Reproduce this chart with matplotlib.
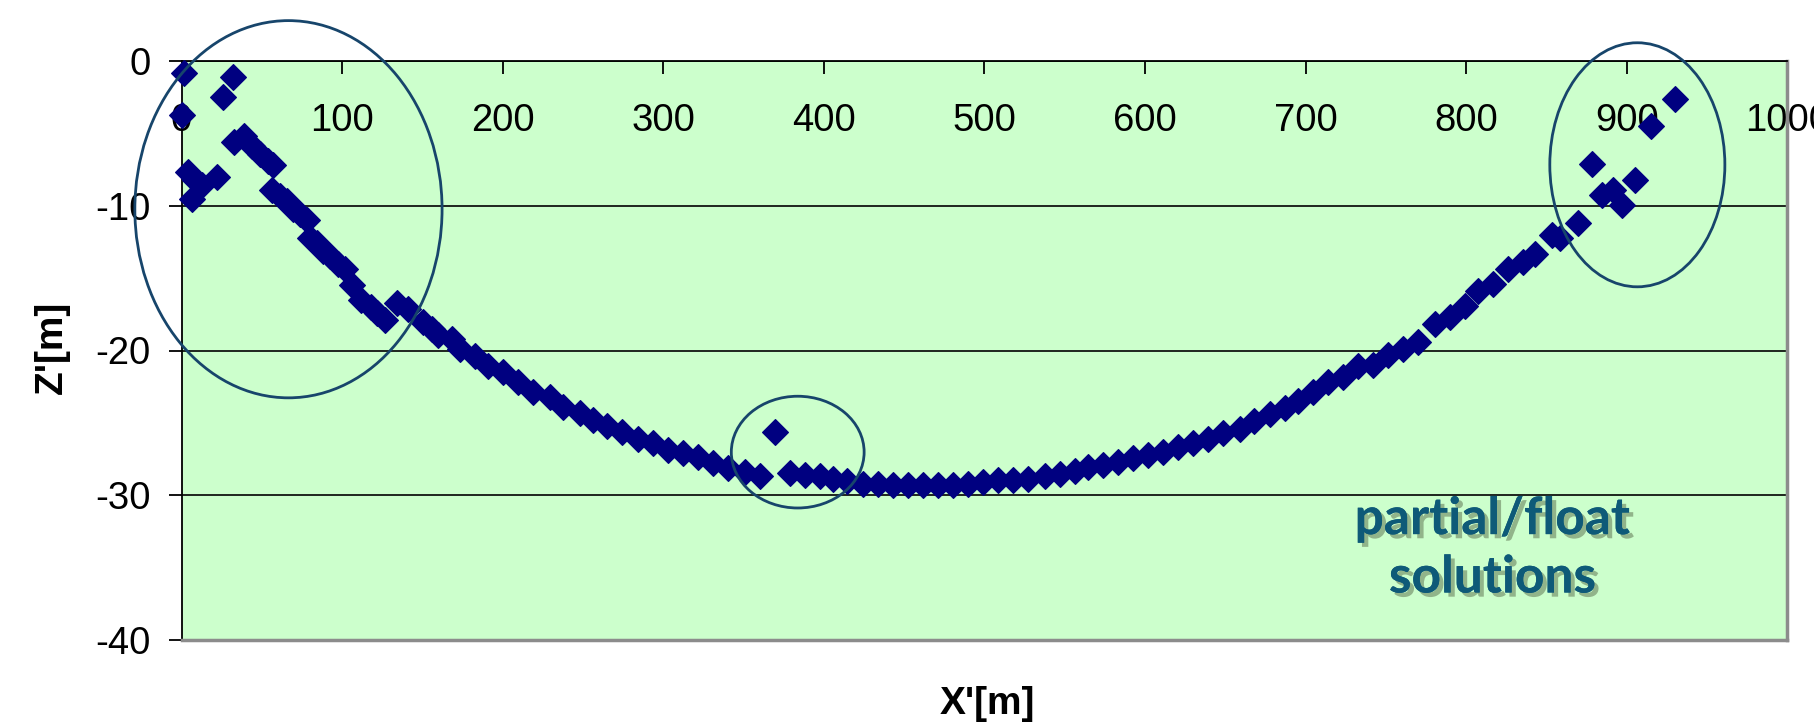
import matplotlib
matplotlib.use("Agg")
import matplotlib.pyplot as plt
from matplotlib.patches import Ellipse
import matplotlib.patheffects as pe

plt.rcParams['font.family'] = ['Liberation Sans', 'DejaVu Sans']
plt.rcParams['axes.unicode_minus'] = False

# ---- data ----
x_vals = [1.7, 0.5, 4.2, 8.4, 12.6, 6.3, 21.9, 26.0, 31.9,
          32.9, 39.1, 43.6, 48.8, 53.9, 57.2,
          56.2, 61.3, 65.5, 69.6, 73.8, 78.0,
          80.0, 84.2, 88.3, 92.5, 97.6, 101.8,
          106.0, 112.0, 118.0, 122.0, 126.7,
          134.0, 141.0, 150.6, 155.8, 159.9, 168.2, 173.4, 182.7, 191.0, 200.4,
          209.7, 219.1, 229.5, 237.7, 248.1, 256.4, 264.8, 274.1, 284.4, 293.8,
          303.1, 312.5, 321.8, 331.1, 340.5, 350.9, 360.2, 369.6, 378.9, 388.2,
          397.6, 405.9, 414.2, 424.5, 433.9, 443.2, 452.6, 461.9, 471.2, 480.6,
          489.9, 499.3, 508.6, 517.9, 527.3, 537.7, 547.0, 556.4, 564.6, 574.0,
          583.3, 592.7, 602.0, 611.3, 620.7, 630.0, 639.4, 648.7, 659.1, 668.0,
          677.8, 687.1, 695.4, 704.7, 714.1, 723.4, 732.8, 742.1, 751.4, 760.8,
          770.1, 780.5, 789.8, 799.2, 807.5, 816.8, 826.2, 835.5, 842.8, 853.2,
          858.3, 869.7, 878.5, 884.3, 891.5, 896.8, 905.0, 914.8, 930.0]
z_vals = [-0.85, -3.7, -7.65, -8.2, -8.6, -9.5, -8.0, -2.5, -1.1,
          -5.6, -5.2, -5.85, -6.4, -6.9, -7.2,
          -8.9, -9.3, -9.7, -10.2, -10.6, -11.0,
          -12.2, -12.6, -13.1, -13.5, -14.0, -14.4,
          -15.5, -16.5, -17.0, -17.4, -17.9,
          -16.7, -17.1, -18.0, -18.5, -18.9, -19.2, -19.9, -20.4, -21.1, -21.5,
          -22.2, -22.9, -23.2, -23.9, -24.35, -24.8, -25.2, -25.6, -26.1, -26.4,
          -26.9, -27.1, -27.35, -27.8, -28.15, -28.4, -28.7, -25.6, -28.45, -28.6,
          -28.7, -28.85, -29.05, -29.2, -29.2, -29.3, -29.3, -29.3, -29.3, -29.3,
          -29.2, -29.1, -28.95, -28.95, -28.85, -28.7, -28.5, -28.3, -28.05, -27.9,
          -27.7, -27.45, -27.2, -27.0, -26.65, -26.4, -26.1, -25.7, -25.4, -24.9,
          -24.4, -24.0, -23.5, -22.85, -22.2, -21.8, -21.1, -21.0, -20.3, -19.9,
          -19.4, -18.2, -17.7, -16.9, -15.9, -15.4, -14.4, -13.9, -13.3, -12.0,
          -12.25, -11.2, -7.1, -9.25, -8.9, -9.95, -8.2, -4.5, -2.6]

x_ticks = [0, 100, 200, 300, 400, 500, 600, 700, 800, 900, 1000]
z_ticks = [0, -10, -20, -30, -40]

ellipse_centers = [(66.6, -10.24), (383.7, -27.02), (906.5, -7.17)]
ellipse_sizes = [(191.3, 26.06), (82.7, 7.72), (109.0, 16.86)]

annotation = "partial/float\nsolutions"
x_label = "X'[m]"
z_label = "Z'[m]"

# ---- figure ----
fig = plt.figure(figsize=(18.15, 7.28), dpi=100)
ax = fig.add_axes([181.5 / 1815, 1 - 640 / 728, 1606 / 1815, 579 / 728])
ax.set_facecolor('#CCFFCC')
ax.set_xlim(0, 1000)
ax.set_ylim(-40, 0)

ax.spines['bottom'].set_position(('data', 0))
ax.spines['bottom'].set_color('black')
ax.spines['bottom'].set_linewidth(1.3)
ax.spines['top'].set_visible(False)
ax.spines['left'].set_color('black')
ax.spines['left'].set_linewidth(1.3)
ax.spines['right'].set_color('#8c8c8c')
ax.spines['right'].set_linewidth(2.5)
ax.plot([0, 1], [0, 0], transform=ax.transAxes, color='#8c8c8c', lw=2.5,
        clip_on=False, zorder=2.6, solid_capstyle='projecting')

ax.set_xticks(x_ticks, labels=[str(v) for v in x_ticks])
ax.set_yticks(z_ticks, labels=[str(v) for v in z_ticks])
ax.tick_params(axis='x', direction='out', length=9, width=1.3, pad=21,
               labelsize=27.5, colors='black')
ax.tick_params(axis='y', direction='out', length=9.4, width=1.3, pad=13,
               labelsize=27.5, colors='black')
ax.yaxis.grid(True, color='black', lw=1.2)
ax.set_axisbelow(True)

ax.plot(x_vals, z_vals, ls='none', marker='D', ms=13.5, color='#000080',
        mec='#000080', mew=0.8, zorder=3, clip_on=False)

for (cx, cy), (w, h) in zip(ellipse_centers, ellipse_sizes):
    ax.add_patch(Ellipse((cx, cy), w, h, fill=False, ec='#17456b', lw=2.0,
                         zorder=4, clip_on=False))

ax.text(816.3, -33.7, annotation, ha='center', va='center',
        multialignment='center', fontsize=37, fontweight='bold',
        family=['Lato', 'DejaVu Sans'], color='#0e5a78', linespacing=1.3,
        zorder=5,
        path_effects=[pe.withSimplePatchShadow(offset=(3, -3),
                                               shadow_rgbFace='#4a5a3a',
                                               alpha=0.45),
                      pe.Normal()])

fig.text(52 / 1815, 1 - 347 / 728, z_label, rotation=90, ha='center',
         va='center', fontsize=28, fontweight='bold')
fig.text(987 / 1815, 1 - 704 / 728, x_label, ha='center', va='center',
         fontsize=28, fontweight='bold')

fig.savefig('out.png', dpi=100)
